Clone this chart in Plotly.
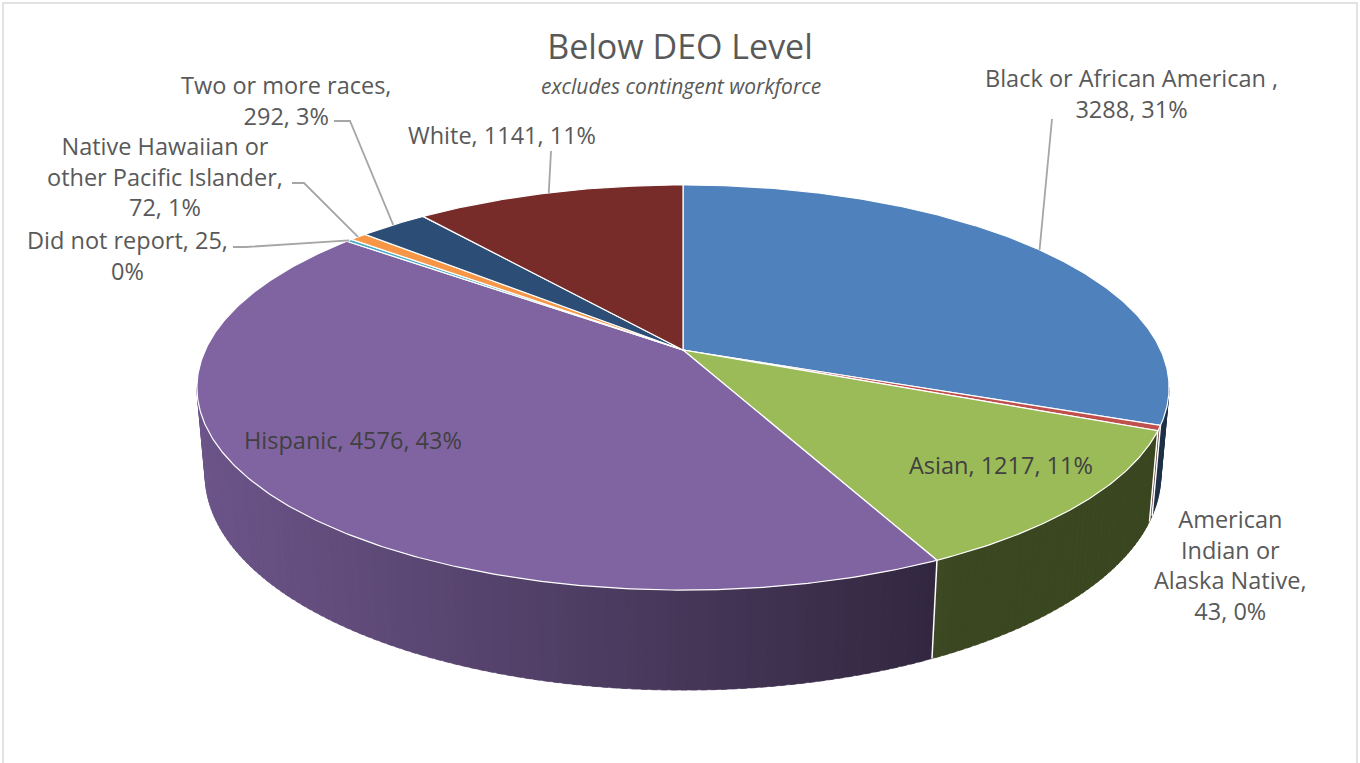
import numpy as np
import plotly.graph_objects as go

# ---------------- data ----------------
categories = ["Black or African American ", "American Indian or Alaska Native", "Asian", "Hispanic",
              "Did not report", "Native Hawaiian or other Pacific Islander", "Two or more races", "White"]
values = [3288, 43, 1217, 4576, 25, 72, 292, 1141]
colors = ["#4F81BD", "#C0504D", "#9BBB59", "#8064A2", "#4BACC6", "#F79646", "#2C4D75", "#772C2A"]
title_text = "Below DEO Level"
subtitle_text = "excludes contingent workforce"

# ---------------- layout of the data labels (positions in pixels) ----------------
# words per line for wrapped labels, label centre, leader-line elbow points
label_style = [
    dict(lines=[5], pos=(1131, 93), leader=[(1052, 119)]),
    dict(lines=[1, 3, 5], pos=(1230, 565), leader=None),
    dict(lines=[], pos=(1001, 465), leader=None, inside=True),
    dict(lines=[], pos=(353, 440), leader=None, inside=True),
    dict(lines=[4], pos=(127, 255), leader=[(233, 247), (246, 247)]),
    dict(lines=[3, 6], pos=(165, 176), leader=[(292, 183), (304, 183)]),
    dict(lines=[4], pos=(286, 100), leader=[(334, 121), (350, 121)]),
    dict(lines=[], pos=(502, 135), leader=[(551, 151)]),
]

W, Hh = 1360, 763
TEXT_GREY = "#595959"
FONT = "Open Sans"
LABEL_SIZE = 23.5

# ---------------- pie geometry (perspective projection of a tilted disc) ----------------
total = float(sum(values))
fracs = np.array(values, float) / total
pcts = [int(round(f * 100)) for f in fracs]
cum = np.concatenate([[0.0], np.cumsum(fracs)]) * 2 * np.pi
starts, ends = cum[:-1], cum[1:]
mids = (starts + ends) / 2

CX, CY = 683.0, 350.0
FOCAL, DIST = 2353.0, 4.926
ELEV = np.arcsin(0.4095)
SE, CE = np.sin(ELEV), np.cos(ELEV)
THICK = 0.200


def proj(theta, r=1.0, y=0.0):
    theta = np.asarray(theta, float)
    X = r * np.sin(theta)
    Z = r * np.cos(theta)
    yc = Z * SE + y * CE
    w = DIST + Z * CE - y * SE
    return CX + FOCAL * X / w, CY - FOCAL * yc / w


def shade(hexcol, f):
    h = hexcol.lstrip("#")
    r, g, b = (int(h[i:i + 2], 16) for i in (0, 2, 4))
    return "rgb(%d,%d,%d)" % (int(r * f), int(g * f), int(b * f))


fig = go.Figure()

# visible outer wall (front part of the cylinder), shaded from left to right
th_r = np.arccos(-CE / DIST)
th_l = 2 * np.pi - th_r
step = np.radians(1.0)
for i in range(len(values)):
    a, b = max(starts[i], th_r), min(ends[i], th_l)
    if b <= a:
        continue
    k = max(1, int(np.ceil((b - a) / step)))
    edges = np.linspace(a, b, k + 1)
    for j in range(k):
        t0 = edges[j]
        t1 = min(edges[j + 1] + step * 0.6, b)   # slight overlap hides seams
        xt, yt = proj([t0, t1], 1.0, 0.0)
        xb, yb = proj([t1, t0], 1.0, -THICK)
        xm = float(proj((edges[j] + edges[j + 1]) / 2, 1.0, -THICK / 2)[0])
        fac = float(np.clip(0.4 + 0.45 * (930 - xm) / 730, 0.38, 0.88))
        col = shade(colors[i], fac)
        fig.add_trace(go.Scatter(
            x=list(xt) + list(xb) + [xt[0]], y=list(yt) + list(yb) + [yt[0]],
            mode="lines", fill="toself", fillcolor=col,
            line=dict(color=col, width=0.5), hoverinfo="skip", showlegend=False))

# white seams on the wall at slice boundaries
for t in starts:
    if th_r < t < th_l:
        xs, ys = proj([t, t], 1.0, np.array([0.0, -THICK]))
        fig.add_trace(go.Scatter(x=list(xs), y=list(ys), mode="lines",
                                 line=dict(color="white", width=1.5),
                                 hoverinfo="skip", showlegend=False))

# top faces of the slices
cx0, cy0 = proj(0.0, 0.0, 0.0)
for i in range(len(values)):
    k = max(2, int(np.ceil((ends[i] - starts[i]) / np.radians(0.5))))
    ts = np.linspace(starts[i], ends[i], k + 1)
    xs, ys = proj(ts, 1.0, 0.0)
    fig.add_trace(go.Scatter(
        x=[float(cx0)] + list(xs) + [float(cx0)], y=[float(cy0)] + list(ys) + [float(cy0)],
        mode="lines", fill="toself", fillcolor=colors[i],
        line=dict(color="white", width=1.2), hoveron="fills",
        name=categories[i].strip(),
        text="%s: %d (%d%%)" % (categories[i].strip(), values[i], pcts[i]),
        hoverinfo="text", showlegend=False))

# data labels and leader lines
annotations = []
for i in range(len(values)):
    st = label_style[i]
    full = "%s, %d, %d%%" % (categories[i], values[i], pcts[i])
    words = full.split(" ")
    cuts = [0] + st["lines"] + [len(words)]
    lines = [" ".join(words[cuts[j]:cuts[j + 1]]) for j in range(len(cuts) - 1)]
    lines = [l for l in lines if l]
    annotations.append(dict(x=st["pos"][0], y=st["pos"][1], text="<br>".join(lines),
                            showarrow=False, align="center",
                            font=dict(family=FONT, size=LABEL_SIZE,
                                      color="#404040" if st.get("inside") else TEXT_GREY),
                            xanchor="center", yanchor="middle"))
    if st["leader"]:
        px, py = proj(mids[i], 1.0, 0.0)
        lxs = [p[0] for p in st["leader"]] + [float(px)]
        lys = [p[1] for p in st["leader"]] + [float(py)]
        fig.add_trace(go.Scatter(x=lxs, y=lys, mode="lines",
                                 line=dict(color="#A6A6A6", width=1.8),
                                 hoverinfo="skip", showlegend=False))

annotations.append(dict(x=681, y=86, text="<i>%s</i>" % subtitle_text, showarrow=False,
                        font=dict(family=FONT, size=21, color=TEXT_GREY),
                        xanchor="center", yanchor="middle"))

fig.update_layout(
    width=W, height=Hh,
    margin=dict(l=0, r=0, t=0, b=0),
    paper_bgcolor="white", plot_bgcolor="white",
    title=dict(text=title_text, x=0.5, xanchor="center", xref="container",
               y=1 - 47 / Hh, yanchor="middle", yref="container",
               font=dict(family=FONT, size=34, color=TEXT_GREY)),
    xaxis=dict(range=[0, W], visible=False, fixedrange=True),
    yaxis=dict(range=[Hh, 0], visible=False, fixedrange=True),
    annotations=annotations,
    shapes=[dict(type="rect", xref="x", yref="y", x0=3, y0=3, x1=1357, y1=775,
                 line=dict(color="#D9D9D9", width=1.5), fillcolor="rgba(0,0,0,0)", layer="below")],
    showlegend=False,
)

fig.write_html("out.html", config={"displayModeBar": False},
               post_script="document.body.style.margin='0';document.body.style.padding='0';")
